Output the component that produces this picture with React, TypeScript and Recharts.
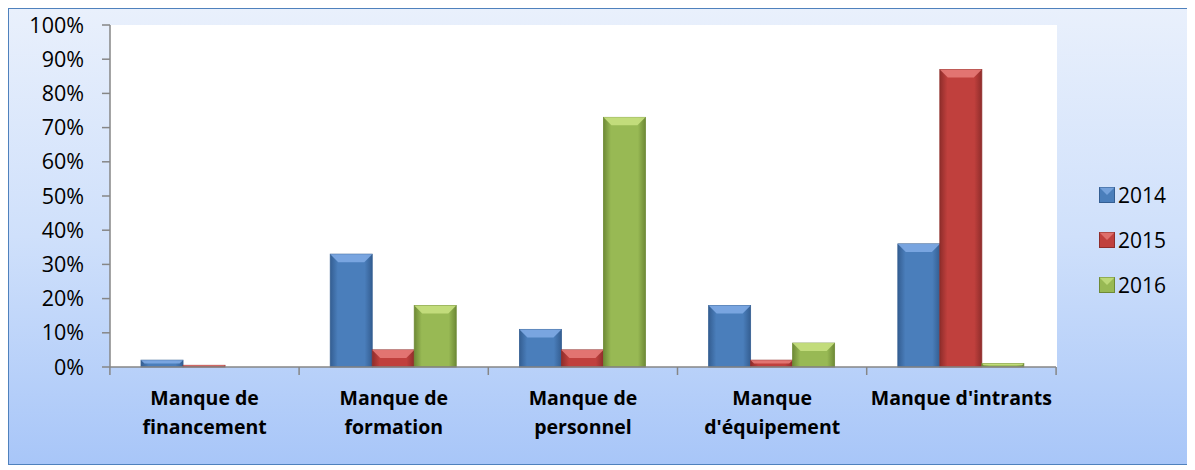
import React from 'react';
import { BarChart, Bar, XAxis, YAxis, Legend } from 'recharts';

const categories = [
  'Manque de financement',
  'Manque de formation',
  'Manque de personnel',
  "Manque d'équipement",
  "Manque d'intrants",
];
const categoryLines = [
  ['Manque de', 'financement'],
  ['Manque de', 'formation'],
  ['Manque de', 'personnel'],
  ['Manque', "d'équipement"],
  ["Manque d'intrants"],
];
const values2014 = [2, 33, 11, 18, 36];
const values2015 = [0.5, 5, 5, 2, 87];
const values2016 = [0, 18, 73, 7, 1];
const yTicks = [0, 10, 20, 30, 40, 50, 60, 70, 80, 90, 100];

const series = [
  { key: 'y2014', name: '2014', base: '#4a7ebb', dark: '#345e92', light: '#7eaae4' },
  { key: 'y2015', name: '2015', base: '#c0403d', dark: '#8f2d2b', light: '#e57a77' },
  { key: 'y2016', name: '2016', base: '#98b954', dark: '#6e8a36', light: '#c6e07f' },
];

const data = categories.map((c, i) => ({
  name: c,
  y2014: values2014[i],
  y2015: values2015[i],
  y2016: values2016[i],
}));

const W = 1179;
const H = 455;
const PLOT_LEFT = 101;
const PLOT_RIGHT = 1048;
const BAND = (PLOT_RIGHT - PLOT_LEFT) / categories.length;
const FONT = '"Open Sans", "Noto Sans", sans-serif';

const makeShape = (s: any) => (props: any) => {
  const { x, y, width, height } = props;
  if (!height || height <= 0) return null;
  const b = Math.max(0, Math.min(8, height / 2, width / 2));
  return (
    <g>
      <rect x={x} y={y} width={width} height={height} fill={`url(#grad-${s.key})`} stroke={s.dark} strokeWidth={0.8} />
      <polygon
        points={`${x},${y} ${x + width},${y} ${x + width - b},${y + b} ${x + b},${y + b}`}
        fill={s.light}
        opacity={0.9}
      />
    </g>
  );
};

const CategoryTick = (props: any) => {
  const { x, y, index } = props;
  const lines = categoryLines[index] || [];
  const left = x - BAND / 2;
  return (
    <g>
      <line x1={left} y1={y - 8} x2={left} y2={y} stroke="#868686" strokeWidth={1.5} />
      {index === categories.length - 1 && (
        <line x1={left + BAND} y1={y - 8} x2={left + BAND} y2={y} stroke="#868686" strokeWidth={1.5} />
      )}
      {lines.map((l: string, i: number) => (
        <text
          key={i}
          x={x}
          y={y + 30 + i * 29}
          textAnchor="middle"
          fontFamily={FONT}
          fontWeight="bold"
          fontSize={19.5}
          fill="#000"
        >
          {l}
        </text>
      ))}
    </g>
  );
};

const LegendContent = () => (
  <div style={{ width: 90, fontFamily: FONT, fontSize: 21 }}>
    {series.map((s) => (
      <div key={s.key} style={{ height: 45, display: 'flex', alignItems: 'center' }}>
        <svg width={16} height={16} style={{ marginRight: 3 }}>
          <rect x={0.5} y={0.5} width={15} height={15} fill={s.base} stroke={s.dark} />
          <polygon points="0.5,0.5 15.5,0.5 8,8" fill={s.light} opacity={0.8} />
        </svg>
        <span>{s.name}</span>
      </div>
    ))}
  </div>
);

export default function App() {
  return (
    <div
      style={{
        width: W,
        height: H,
        border: '1.5px solid #4f81bd',
        background: 'linear-gradient(to bottom, #e9f0fc 0%, #cfe0fb 50%, #a8c6f8 100%)',
        position: 'relative',
      }}
    >
      <BarChart
        width={W}
        height={H}
        data={data}
        margin={{ top: 16, right: 42, bottom: 0, left: 0 }}
        barGap={0}
        barCategoryGap="16.4%"
      >
        <defs>
          {series.map((s) => (
            <linearGradient key={s.key} id={`grad-${s.key}`} x1="0" y1="0" x2="1" y2="0">
              <stop offset="0%" stopColor={s.dark} />
              <stop offset="18%" stopColor={s.base} />
              <stop offset="82%" stopColor={s.base} />
              <stop offset="100%" stopColor={s.dark} />
            </linearGradient>
          ))}
        </defs>
        <rect x={PLOT_LEFT} y={16} width={PLOT_RIGHT - PLOT_LEFT} height={342} fill="#ffffff" />
        <YAxis
          width={PLOT_LEFT}
          domain={[0, 100]}
          ticks={yTicks}
          interval={0}
          tickFormatter={(v: number) => `${v}%`}
          axisLine={{ stroke: '#868686', strokeWidth: 1.5 }}
          tickLine={{ stroke: '#868686', strokeWidth: 1.5 }}
          tickSize={8}
          tickMargin={18}
          tick={{ fill: '#000', fontSize: 21.5, fontFamily: FONT }}
        />
        <XAxis
          dataKey="name"
          height={97}
          interval={0}
          axisLine={{ stroke: '#868686', strokeWidth: 1.5 }}
          tickLine={false}
          tick={<CategoryTick />}
        />
        <Legend
          layout="vertical"
          align="right"
          verticalAlign="middle"
          content={<LegendContent />}
          wrapperStyle={{ left: 1090, top: 163, right: 'auto', width: 90 }}
        />
        {series.map((s) => (
          <Bar
            key={s.key}
            dataKey={s.key}
            name={s.name}
            fill={s.base}
            shape={makeShape(s)}
            isAnimationActive={false}
          />
        ))}
      </BarChart>
    </div>
  );
}
